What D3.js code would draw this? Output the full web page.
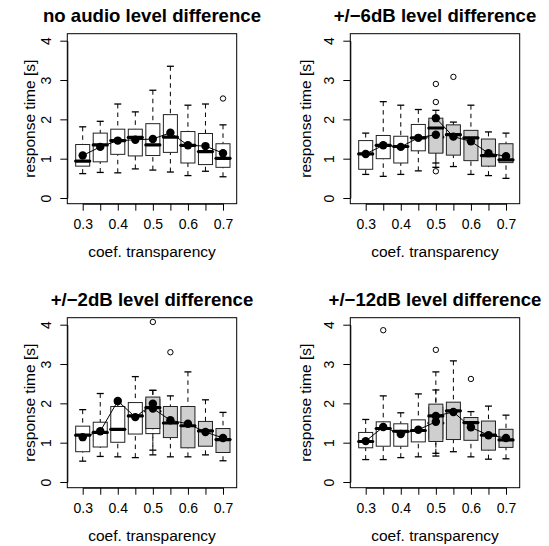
<!DOCTYPE html>
<html><head><meta charset="utf-8">
<script src="https://cdn.jsdelivr.net/npm/d3@7"></script>
<style>body{margin:0;background:#fff} svg{display:block}</style>
</head><body>
<svg id="c" width="549" height="546"></svg>
<script>
// ---------- data ----------
const positions = ["0.3","0.35","0.4","0.45","0.5","0.55","0.6","0.65","0.7"];
const tickLabels = ["0.3","","0.4","","0.5","","0.6","","0.7"];
const yTicks = [0,1,2,3,4];
const titles = ["no audio level difference","+/\u22126dB level difference","+/\u22122dB level difference","+/\u221212dB level difference"];
const xTitle = "coef. transparency";
const yTitle = "response time [s]";

// panel 1 (no audio level difference) – white series, 0.3..0.7
const p1Lo   = [0.62,0.65,0.64,0.74,0.71,0.66,0.57,0.68,0.54];
const p1Q1   = [0.81,0.92,1.11,1.07,1.08,1.16,0.89,0.85,0.78];
const p1Med  = [0.94,1.35,1.46,1.54,1.35,1.55,1.34,1.18,1.01];
const p1Q3   = [1.36,1.65,1.75,1.75,1.89,2.12,1.69,1.64,1.38];
const p1Hi   = [1.81,1.95,2.39,2.19,2.74,3.35,2.36,2.39,1.86];
const p1Mean = [1.08,1.30,1.46,1.48,1.50,1.66,1.34,1.32,1.14];
const p1Out  = [[8,2.53]];

// panel 2 (+/-6dB) – white 0.3..0.5, grey 0.5..0.7
const p2wLo   = [0.60,0.55,0.60,0.69,0.89];
const p2wQ1   = [0.73,1.00,0.89,1.20,1.16];
const p2wMed  = [1.12,1.34,1.31,1.53,1.55];
const p2wQ3   = [1.46,1.59,1.57,1.87,1.95];
const p2wHi   = [1.65,2.45,2.36,2.25,2.00];
const p2wMean = [1.12,1.34,1.30,1.53,1.61];
const p2wOut  = [];
const p2gLo   = [0.78,0.80,0.60,0.57,0.50];
const p2gQ1   = [1.14,1.09,0.95,0.81,0.90];
const p2gMed  = [1.78,1.61,1.53,1.08,0.97];
const p2gQ3   = [2.03,1.86,1.72,1.50,1.38];
const p2gHi   = [2.23,1.93,2.36,1.68,1.65];
const p2gMean = [2.03,1.56,1.44,1.14,1.06];
const p2gOut  = [[0,2.44],[0,2.90],[0,0.68],[1,3.08]];

// panel 3 (+/-2dB)
const p3wLo   = [0.53,0.65,0.64,0.62,0.81];
const p3wQ1   = [0.77,0.89,1.01,1.22,1.23];
const p3wMed  = [1.19,1.26,1.34,1.68,1.80];
const p3wQ3   = [1.42,1.52,1.92,2.02,2.10];
const p3wHi   = [1.84,2.25,2.00,2.68,2.33];
const p3wMean = [1.14,1.29,2.06,1.65,1.99];
const p3wOut  = [];
const p3gLo   = [0.69,0.64,0.64,0.69,0.54];
const p3gQ1   = [1.36,1.13,0.87,0.91,0.75];
const p3gMed  = [1.89,1.50,1.43,1.30,1.08];
const p3gQ3   = [2.16,1.92,1.92,1.54,1.36];
const p3gHi   = [2.33,2.19,2.80,2.09,1.77];
const p3gMean = [1.87,1.57,1.48,1.27,1.12];
const p3gOut  = [[0,4.07],[1,3.30]];

// panel 4 (+/-12dB)
const p4wLo   = [0.57,0.57,0.62,0.64,0.73];
const p4wQ1   = [0.87,0.91,0.91,1.02,1.10];
const p4wMed  = [1.03,1.36,1.29,1.31,1.50];
const p4wQ3   = [1.26,1.53,1.48,1.58,1.90];
const p4wHi   = [1.59,2.19,1.76,2.24,2.34];
const p4wMean = [1.04,1.40,1.22,1.33,1.53];
const p4wOut  = [[1,3.86]];
const p4gLo   = [0.66,0.77,0.64,0.58,0.59];
const p4gQ1   = [1.03,1.08,1.06,0.81,0.88];
const p4gMed  = [1.68,1.81,1.51,1.19,1.07];
const p4gQ3   = [1.98,2.03,1.64,1.55,1.34];
const p4gHi   = [2.80,3.08,1.79,1.93,1.70];
const p4gMean = [1.68,1.78,1.39,1.19,1.12];
const p4gOut  = [[0,3.36],[2,2.62]];

// ---------- build ----------
const ser = (start, fill, lo, q1, med, q3, hi, mean, out) => ({start, fill, lo, q1, med, q3, hi, mean, out});
const WHITE = "#ffffff", GREY = "#cfcfcf";
const panels = [
  {title: titles[0], left: 67.3, top: 33.7, ylabOff: 32.8,
   series: [ser(0, WHITE, p1Lo, p1Q1, p1Med, p1Q3, p1Hi, p1Mean, p1Out)]},
  {title: titles[1], left: 350.3, top: 33.7, ylabOff: 39.5,
   series: [ser(0, WHITE, p2wLo, p2wQ1, p2wMed, p2wQ3, p2wHi, p2wMean, p2wOut),
            ser(4, GREY, p2gLo, p2gQ1, p2gMed, p2gQ3, p2gHi, p2gMean, p2gOut)]},
  {title: titles[2], left: 67.3, top: 317.7, ylabOff: 32.8,
   series: [ser(0, WHITE, p3wLo, p3wQ1, p3wMed, p3wQ3, p3wHi, p3wMean, p3wOut),
            ser(4, GREY, p3gLo, p3gQ1, p3gMed, p3gQ3, p3gHi, p3gMean, p3gOut)]},
  {title: titles[3], left: 350.3, top: 317.7, ylabOff: 39.5,
   series: [ser(0, WHITE, p4wLo, p4wQ1, p4wMed, p4wQ3, p4wHi, p4wMean, p4wOut),
            ser(4, GREY, p4gLo, p4gQ1, p4gMed, p4gQ3, p4gHi, p4gMean, p4gOut)]}
];

const PW = 169.4, PH = 170;
const FONT = "'Liberation Sans', Arial, Helvetica, sans-serif";
const svg = d3.select("#c");

panels.forEach(p => {
  const g = svg.append("g");
  const x = d3.scaleLinear().domain([1, 9]).range([p.left + 15.4, p.left + 155.7]);
  const y = d3.scaleLinear().domain([0, 4]).range([p.top + 164.3, p.top + 7]);
  const bw = (x(2) - x(1)) * 0.8;   // box width
  const sw = bw / 2;                 // staple width

  // boxes
  p.series.forEach(s => {
    const sg = g.append("g");
    s.med.forEach((m, i) => {
      const cx = x(s.start + i + 1);
      // whiskers
      sg.append("line").attr("x1", cx).attr("x2", cx).attr("y1", y(s.hi[i])).attr("y2", y(s.q3[i]))
        .attr("stroke", "#000").attr("stroke-width", 1).attr("stroke-dasharray", "4.5,4");
      sg.append("line").attr("x1", cx).attr("x2", cx).attr("y1", y(s.lo[i])).attr("y2", y(s.q1[i]))
        .attr("stroke", "#000").attr("stroke-width", 1).attr("stroke-dasharray", "4.5,4");
      // staples
      [s.hi[i], s.lo[i]].forEach(v => {
        sg.append("line").attr("x1", cx - sw / 2).attr("x2", cx + sw / 2).attr("y1", y(v)).attr("y2", y(v))
          .attr("stroke", "#000").attr("stroke-width", 1.3);
      });
      // box
      sg.append("rect").attr("x", cx - bw / 2).attr("width", bw)
        .attr("y", y(s.q3[i])).attr("height", y(s.q1[i]) - y(s.q3[i]))
        .attr("fill", s.fill).attr("stroke", "#222").attr("stroke-width", 1);
      // median
      sg.append("line").attr("x1", cx - bw / 2).attr("x2", cx + bw / 2).attr("y1", y(m)).attr("y2", y(m))
        .attr("stroke", "#000").attr("stroke-width", 3.2).attr("stroke-linecap", "round");
    });
    s.out.forEach(([i, v]) => {
      sg.append("circle").attr("cx", x(s.start + i + 1)).attr("cy", y(v)).attr("r", 2.7)
        .attr("fill", "none").attr("stroke", "#000").attr("stroke-width", 1);
    });
  });

  // means
  p.series.forEach(s => {
    const pts = s.mean.map((v, i) => [x(s.start + i + 1), y(v)]);
    g.append("path").attr("d", d3.line()(pts)).attr("fill", "none").attr("stroke", "#000").attr("stroke-width", 1);
    g.selectAll(null).data(pts).enter().append("circle")
      .attr("cx", d => d[0]).attr("cy", d => d[1]).attr("r", 4.2).attr("fill", "#000");
  });

  // frame
  g.append("rect").attr("x", p.left).attr("y", p.top).attr("width", PW).attr("height", PH)
    .attr("fill", "none").attr("stroke", "#000").attr("stroke-width", 1);

  // y axis
  const ya = g.append("g").attr("transform", `translate(${p.left},0)`)
    .call(d3.axisLeft(y).tickValues(yTicks).tickSize(7).tickSizeOuter(0).tickFormat(d3.format("d")));
  ya.selectAll("text").attr("x", null).attr("dy", null).attr("y", null)
    .attr("transform", "translate(-16.5,0) rotate(-90)").attr("text-anchor", "middle")
    .attr("font-family", FONT).attr("font-size", 14).attr("fill", "#000");

  // x axis
  const xa = g.append("g").attr("transform", `translate(0,${p.top + PH})`)
    .call(d3.axisBottom(x).tickValues(d3.range(1, 10)).tickSize(7).tickSizeOuter(0)
      .tickFormat((d, i) => tickLabels[i]));
  xa.selectAll("text").attr("dy", null).attr("y", 25)
    .attr("font-family", FONT).attr("font-size", 14).attr("fill", "#000");
  [ya, xa].forEach(a => { a.selectAll("line,path").attr("stroke", "#000"); a.attr("font-family", FONT); });

  // titles
  const cxp = p.left + PW / 2, cyp = p.top + PH / 2;
  g.append("text").attr("x", cxp).attr("y", p.top - 12).attr("text-anchor", "middle")
    .attr("font-family", FONT).attr("font-weight", "bold").attr("font-size", 18.6).text(p.title);
  g.append("text").attr("x", cxp).attr("y", p.top + PH + 53.6).attr("text-anchor", "middle")
    .attr("font-family", FONT).attr("font-size", 15.5).text(xTitle);
  g.append("text").attr("transform", `translate(${p.left - p.ylabOff},${cyp}) rotate(-90)`)
    .attr("text-anchor", "middle").attr("font-family", FONT).attr("font-size", 15.5).text(yTitle);
});
</script>
</body></html>
